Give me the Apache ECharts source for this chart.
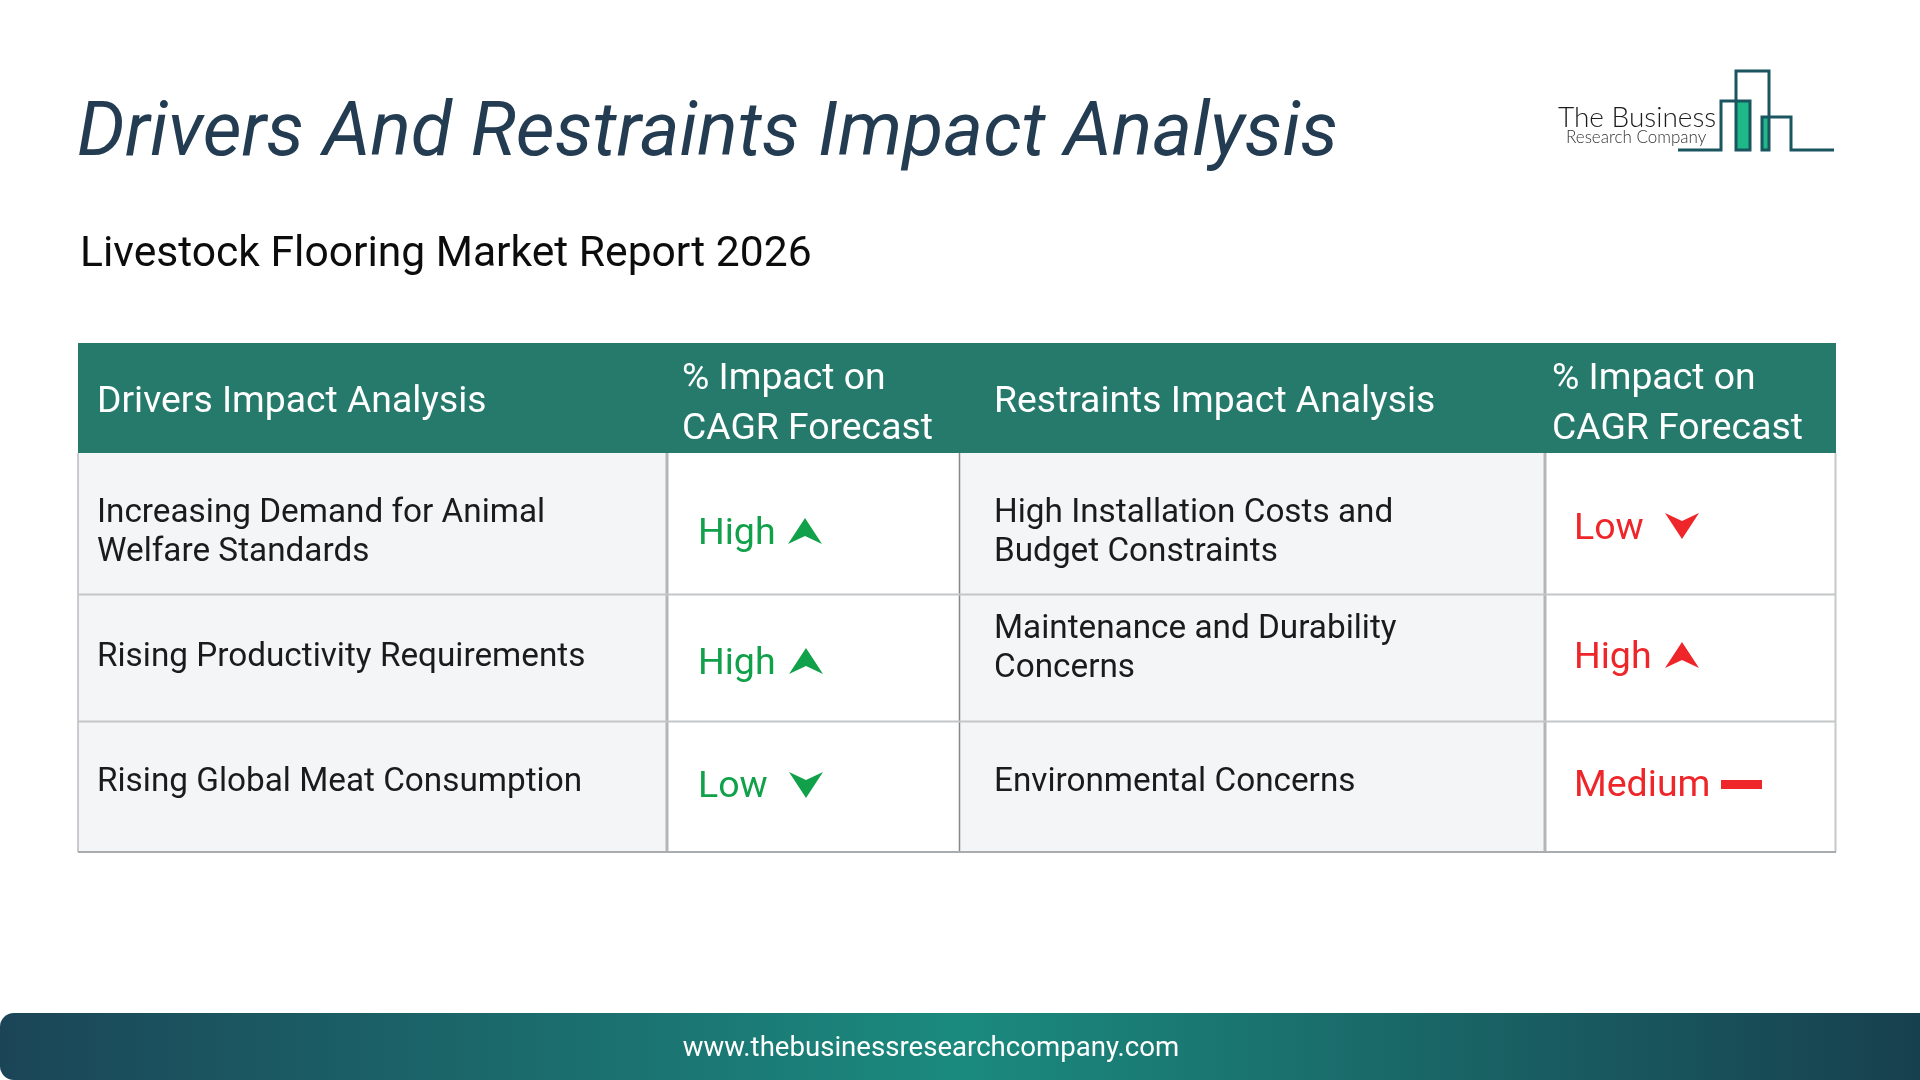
<!DOCTYPE html>
<html>
<head>
<meta charset="utf-8">
<title>Drivers And Restraints Impact Analysis</title>
<script src="https://cdn.jsdelivr.net/npm/echarts@6/dist/echarts.min.js"></script>
<style>
  html, body { margin: 0; padding: 0; background: #fff; }
  #chart { width: 1920px; height: 1080px; }
</style>
</head>
<body>
<div id="chart"></div>
<script>
// table content
const headers = ['Drivers Impact Analysis', '% Impact on\nCAGR Forecast', 'Restraints Impact Analysis', '% Impact on\nCAGR Forecast'];
const drivers = ['Increasing Demand for Animal\nWelfare Standards', 'Rising Productivity Requirements', 'Rising Global Meat Consumption'];
const driverImpact = ['High', 'High', 'Low'];
const restraints = ['High Installation Costs and\nBudget Constraints', 'Maintenance and Durability\nConcerns', 'Environmental Concerns'];
const restraintImpact = ['Low', 'High', 'Medium'];

// layout, in page pixels (the axes below run 0-1920 and 0-1080)
const colEdges = [78, 668, 960, 1545, 1836];
const rowEdges = [343, 453, 595, 722, 852];
const colTextX = [97, 698, 994, 1574];
const headTextX = [97, 682, 994, 1552];
const headTextY = [403, 405, 403, 405];
const nameTextY = [[533, 658, 783], [533, 649, 783]];
const impactTextY = [[535, 665, 788], [530, 659, 787]];
const arrowX = [[805, 806, 806], [1682, 1682, 1741]];
const arrowY = [[531, 661, 785], [526, 655, 784]];

const GREEN = '#12a14b';
const RED = '#ee2529';
const FONT = 'Roboto';

const chart = echarts.init(document.getElementById('chart'));

function textEl(text, x, y, size, color) {
    return {
        type: 'text',
        style: {
            text: text, x: x, y: y, fill: color,
            font: size + 'px ' + FONT,
            lineHeight: text.indexOf('%') === 0 ? 50 : 39.5,
            textAlign: 'left', textVerticalAlign: 'middle'
        }
    };
}

// arrow with a notch, or a dash for Medium
function markEl(level, cx, cy, color) {
    if (level === 'Medium') {
        return { type: 'rect', shape: { x: cx - 20, y: cy - 4, width: 41, height: 9 }, style: { fill: color } };
    }
    const d = level === 'High' ? 1 : -1;
    return {
        type: 'polygon',
        shape: { points: [[cx, cy - 13 * d], [cx + 17, cy + 13 * d], [cx, cy + 5 * d], [cx - 17, cy + 13 * d]] },
        style: { fill: color }
    };
}

// one row per cell: [col, row]
const cells = [];
headers.forEach((h, c) => cells.push([c, 0]));
[0, 1, 2, 3].forEach(c => [1, 2, 3].forEach(r => cells.push([c, r])));

function renderCell(params, api) {
    const c = api.value(0), r = api.value(1);
    const p0 = api.coord([colEdges[c], rowEdges[r]]);
    const p1 = api.coord([colEdges[c + 1], rowEdges[r + 1]]);
    const isHead = r === 0;
    const isImpact = c % 2 === 1;
    const children = [{
        type: 'rect',
        shape: { x: p0[0], y: p0[1], width: p1[0] - p0[0], height: p1[1] - p0[1] },
        style: { fill: isHead ? '#257a6b' : (isImpact ? '#ffffff' : '#f3f5f7') }
    }];
    if (isHead) {
        children.push(textEl(headers[c], headTextX[c], headTextY[c], 37.3, '#ffffff'));
    } else if (isImpact) {
        const side = c === 1 ? 0 : 1;
        const level = (side === 0 ? driverImpact : restraintImpact)[r - 1];
        const color = side === 0 ? GREEN : RED;
        children.push(textEl(level, colTextX[c], impactTextY[side][r - 1], 37.5, color));
        children.push(markEl(level, arrowX[side][r - 1], arrowY[side][r - 1], color));
    } else {
        const side = c === 0 ? 0 : 1;
        const name = (side === 0 ? drivers : restraints)[r - 1];
        children.push(textEl(name, colTextX[c], nameTextY[side][r - 1], 33.3, '#1b1b1b'));
    }
    return { type: 'group', children: children };
}

// table rules drawn over the cells: [x0, y0, x1, y1, width, color]
const rules = [
    [78, 453, 78, 852, 1.5, '#b9bcbf'],
    [667, 453, 667, 852, 3, '#b3b5b8'],
    [959.5, 453, 959.5, 852, 1.5, '#85878a'],
    [1545, 453, 1545, 852, 3, '#b3b5b8'],
    [1835.5, 453, 1835.5, 852, 2, '#c6c8ca'],
    [78, 594.5, 1836, 594.5, 2, '#c4c6c8'],
    [78, 721.5, 1836, 721.5, 2, '#c4c6c8'],
    [78, 852, 1836, 852, 2, '#a9acaf']
];

function renderRule(params, api) {
    const a = api.coord([api.value(0), api.value(1)]);
    const b = api.coord([api.value(2), api.value(3)]);
    return {
        type: 'line',
        shape: { x1: a[0], y1: a[1], x2: b[0], y2: b[1] },
        style: { stroke: rules[params.dataIndex][5], lineWidth: rules[params.dataIndex][4] }
    };
}

const LOGO = '#1a5560';
const LOGO_FILL = '#1fb988';

chart.setOption({
    backgroundColor: '#ffffff',
    animation: false,
    title: [
        {
            text: 'Drivers And Restraints Impact Analysis',
            left: 72, top: 93,
            textStyle: { fontFamily: FONT, fontSize: 75.5, fontStyle: 'italic', fontWeight: 400, color: '#243c52' }
        },
        {
            text: 'Livestock Flooring Market Report 2026',
            left: 75, top: 229,
            textStyle: { fontFamily: FONT, fontSize: 42.6, fontWeight: 400, color: '#0c0c0c' }
        }
    ],
    grid: { left: 0, right: 0, top: 0, bottom: 0 },
    xAxis: { type: 'value', min: 0, max: 1920, show: false },
    yAxis: { type: 'value', min: 0, max: 1080, inverse: true, show: false },
    series: [
        { type: 'custom', coordinateSystem: 'cartesian2d', data: cells, renderItem: renderCell, silent: true },
        { type: 'custom', coordinateSystem: 'cartesian2d', data: rules.map(r => r.slice(0, 4)), renderItem: renderRule, silent: true }
    ],
    graphic: [
        // footer band
        {
            type: 'rect',
            shape: { x: 0, y: 1013, width: 1920, height: 67, r: [14, 0, 0, 14] },
            style: {
                fill: new echarts.graphic.LinearGradient(0, 0, 1, 0, [
                    { offset: 0, color: '#1b4557' },
                    { offset: 0.5, color: '#1b8a7e' },
                    { offset: 1, color: '#17404e' }
                ])
            }
        },
        {
            type: 'text',
            style: {
                text: 'www.thebusinessresearchcompany.com', x: 931, y: 1049, fill: '#ffffff',
                font: '27.6px ' + FONT, textAlign: 'center', textVerticalAlign: 'middle'
            }
        },
        // logo
        { type: 'rect', shape: { x: 1736, y: 101, width: 14, height: 49 }, style: { fill: LOGO_FILL } },
        { type: 'rect', shape: { x: 1762, y: 117, width: 7, height: 33 }, style: { fill: LOGO_FILL } },
        {
            type: 'polyline',
            shape: { points: [[1678, 150], [1721, 150], [1721, 101], [1750, 101], [1750, 150], [1736, 150], [1736, 71], [1769, 71], [1769, 150], [1762, 150], [1762, 117], [1791, 117], [1791, 150], [1834, 150]] },
            style: { stroke: LOGO, lineWidth: 3, fill: null }
        },
        {
            type: 'text',
            style: { text: 'The Business', x: 1558, y: 132, fill: '#1c1c1c', font: '300 28px Lato', textAlign: 'left', textVerticalAlign: 'bottom' }
        },
        {
            type: 'text',
            style: { text: 'Research Company', x: 1566, y: 146, fill: '#333333', font: '300 17px Lato', textAlign: 'left', textVerticalAlign: 'bottom' }
        }
    ]
});
</script>
</body>
</html>
